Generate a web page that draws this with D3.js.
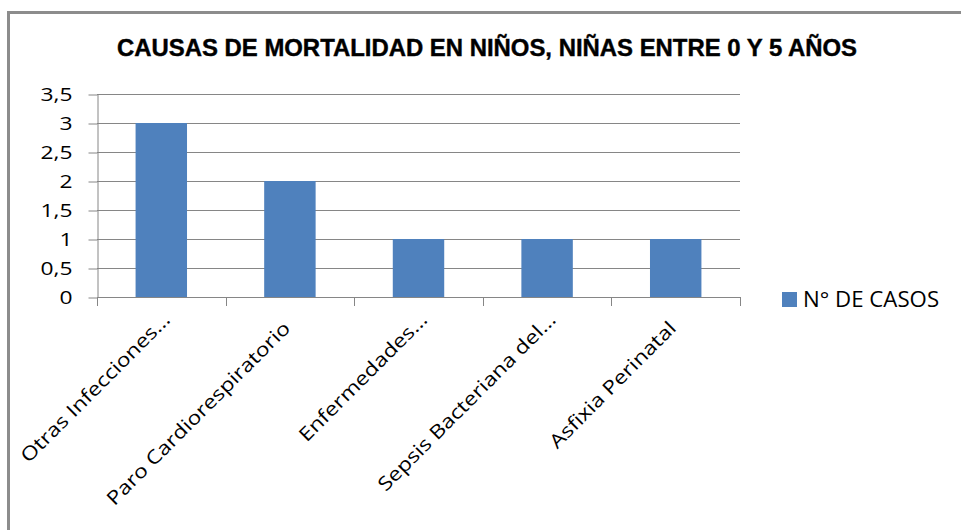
<!DOCTYPE html>
<html>
<head>
<meta charset="utf-8">
<script src="https://cdn.jsdelivr.net/npm/d3@7"></script>
<style>
  html, body { margin: 0; padding: 0; background: #fff; }
  svg { display: block; }
</style>
</head>
<body>
<script>
// ---- data ----
const categories = ["Otras Infecciones…", "Paro Cardiorespiratorio", "Enfermedades…", "Sepsis Bacteriana del…", "Asfixia Perinatal"];
const values = [3, 2, 1, 1, 1];
const seriesName = "N° DE CASOS";
const yTicks = [0, 0.5, 1, 1.5, 2, 2.5, 3, 3.5];
const title = "CAUSAS DE MORTALIDAD EN NIÑOS, NIÑAS ENTRE 0 Y 5 AÑOS";

// ---- layout ----
const W = 961, H = 530;
const plot = { left: 97, right: 740, top: 94, bottom: 297 };
const barColor = "#4f81bd";
const gridColor = "#868686";
const textFont = "'Open Sans', 'Noto Sans', sans-serif";
const sx = 1.2;

const svg = d3.select("body").append("svg").attr("width", W).attr("height", H);

// outer frame
svg.append("path")
  .attr("d", `M8.5,${H + 5} V12.5 H${W + 5}`)
  .attr("fill", "none").attr("stroke", "#8c8c8c").attr("stroke-width", 3);

// title
svg.append("text")
  .attr("x", 117).attr("y", 56)
  .attr("textLength", 740).attr("lengthAdjust", "spacingAndGlyphs")
  .attr("font-family", "'Liberation Sans Narrow', 'Liberation Sans', Arial, sans-serif")
  .attr("font-weight", "bold").attr("font-size", 23)
  .attr("stroke", "#000").attr("stroke-width", 0.4)
  .attr("fill", "#000")
  .text(title);

const x = d3.scaleBand().domain(categories).range([plot.left, plot.right])
  .paddingInner(0.6).paddingOuter(0.3);
const y = d3.scaleLinear().domain([0, 3.5]).range([plot.bottom, plot.top]);

// gridlines
svg.append("g").selectAll("line").data(yTicks).join("line")
  .attr("x1", plot.left).attr("x2", plot.right)
  .attr("y1", d => Math.round(y(d)) + 0.5).attr("y2", d => Math.round(y(d)) + 0.5)
  .attr("stroke", gridColor).attr("stroke-width", 1);

// y axis
const fmt = d => String(d).replace(".", ",");
const yAxis = svg.append("g").attr("transform", `translate(${plot.left + 0.5},0.5)`)
  .call(d3.axisLeft(y).tickValues(yTicks).tickFormat(fmt).tickSizeInner(9).tickSizeOuter(0).tickPadding(16));
yAxis.select(".domain").attr("stroke", gridColor);
yAxis.selectAll(".tick line").attr("stroke", gridColor);
yAxis.selectAll(".tick text").each(function() {
  const t = d3.select(this);
  const xx = +t.attr("x");
  t.attr("x", 0).attr("transform", `translate(${xx},0) scale(${sx},1)`);
})
  .attr("font-family", textFont).attr("font-size", 19).attr("fill", "#000");

// bars
svg.append("g").selectAll("rect").data(values).join("rect")
  .attr("x", (d, i) => x(categories[i]))
  .attr("y", d => y(d))
  .attr("width", x.bandwidth())
  .attr("height", d => y(0) - y(d))
  .attr("fill", barColor);

// x axis line and boundary ticks
const bounds = d3.range(categories.length + 1).map(i => plot.left + (plot.right - plot.left) * i / categories.length);
const xg = svg.append("g");
xg.append("line").attr("x1", plot.left).attr("x2", plot.right)
  .attr("y1", plot.bottom + 0.5).attr("y2", plot.bottom + 0.5).attr("stroke", gridColor);
xg.selectAll("line.tk").data(bounds).join("line").attr("class", "tk")
  .attr("x1", d => Math.round(d) + 0.5).attr("x2", d => Math.round(d) + 0.5)
  .attr("y1", plot.bottom).attr("y2", plot.bottom + 9).attr("stroke", gridColor);

// category labels, rotated -45 (truncated labels let the ellipsis run past the anchor)
xg.selectAll("text").data(categories).join("text")
  .attr("transform", d => `translate(${x(d) + x.bandwidth() / 2 + 10},${plot.bottom + 24}) rotate(-45) scale(${sx},1)`)
  .attr("x", d => d.endsWith("…") ? 0 : -10)
  .attr("text-anchor", "end")
  .attr("font-family", textFont).attr("font-size", 19).attr("fill", "#000")
  .text(d => d);

// legend
const lg = svg.append("g").attr("transform", "translate(782,292)");
lg.append("rect").attr("width", 15).attr("height", 15).attr("fill", barColor);
lg.append("text").attr("transform", `translate(21,15) scale(1.06,1)`)
  .attr("font-family", textFont).attr("font-size", 21).attr("fill", "#000")
  .text(seriesName);
</script>
</body>
</html>
